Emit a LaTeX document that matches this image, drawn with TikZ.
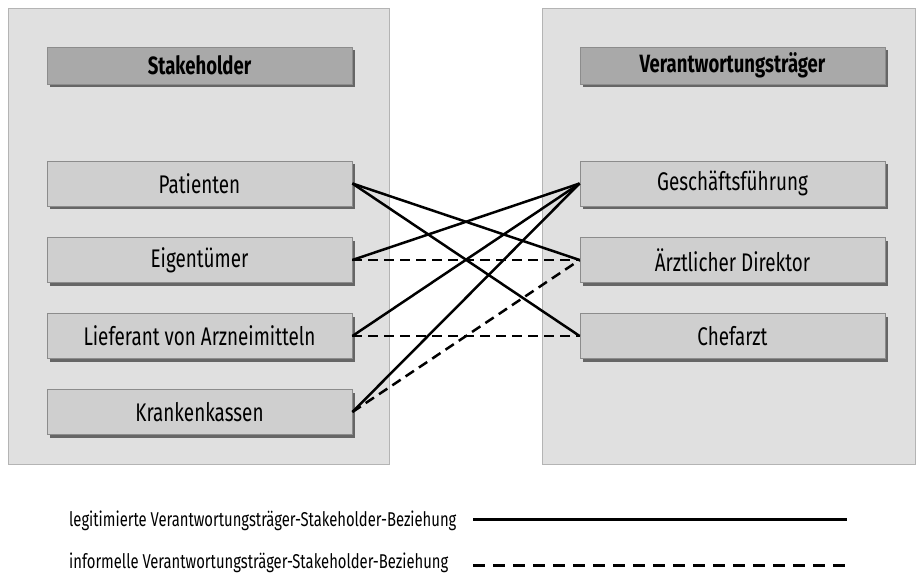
\documentclass[tikz,border=0pt]{standalone}
\usepackage{fontspec}
\setmainfont{Fira Sans}[FakeStretch=0.74]
\usetikzlibrary{shadows}
\definecolor{panelfill}{HTML}{E0E0E0}
\definecolor{panelline}{HTML}{B4B4B4}
\definecolor{headfill}{HTML}{A9A9A9}
\definecolor{itemfill}{HTML}{CFCFCF}
\definecolor{boxline}{HTML}{8C8C8C}
\definecolor{shadowgray}{HTML}{666666}
\tikzset{
  panel/.style={draw=panelline, fill=panelfill, line width=1pt},
  boxbase/.style={draw=boxline, line width=0.8pt, minimum width=305pt,
    minimum height=45pt, inner sep=0pt, font=\fontsize{25.5}{28}\selectfont,
    drop shadow={shadow xshift=3pt, shadow yshift=-3pt, fill=shadowgray, opacity=1}},
  headbox/.style={boxbase, fill=headfill, minimum height=37pt,
    font=\fontsize{25}{28}\selectfont\bfseries},
  itembox/.style={boxbase, fill=itemfill},
  formal/.style={line width=2.5pt},
  informal/.style={line width=2.5pt, dash pattern=on 10pt off 6pt},
  legendtext/.style={anchor=base west, inner sep=0pt, font=\fontsize{20}{23}\selectfont},
  legendline/.style={line width=3pt}
}
\begin{document}
\begin{tikzpicture}[x=1pt, y=-1pt]
  \useasboundingbox (0,0) rectangle (916,574);
  % two panels
  \draw[panel] (8,8) rectangle (389,464);
  \draw[panel] (542,8) rectangle (915,464);
  % headers
  \node[headbox] (sh) at (199.5,65.5) {Stakeholder};
  \node[headbox] (vt) at (732.5,65.5) {Verantwortungsträger};
  % stakeholders
  \node[itembox] (pat) at (199.5,183.5) {Patienten};
  \node[itembox] (eig) at (199.5,260) {Eigentümer};
  \node[itembox] (lie) at (199.5,336) {Lieferant von Arzneimitteln};
  \node[itembox] (kra) at (199.5,412) {Krankenkassen};
  % responsible parties
  \node[itembox] (gf) at (732.5,183.5) {Geschäftsführung};
  \node[itembox] (ad) at (732.5,260) {Ärztlicher Direktor};
  \node[itembox] (cf) at (732.5,336) {Chefarzt};
  % formal relations
  \draw[formal] (pat.east) -- (ad.west);
  \draw[formal] (pat.east) -- (cf.west);
  \draw[formal] (eig.east) -- (gf.west);
  \draw[formal] (lie.east) -- (gf.west);
  \draw[formal] (kra.east) -- (gf.west);
  % informal relations
  \draw[informal] (eig.east) -- (ad.west);
  \draw[informal] (lie.east) -- (cf.west);
  \draw[informal] (kra.east) -- (ad.west);
  % legend
  \node[legendtext] (l1) at (69,526) {legitimierte Verantwortungsträger-Stakeholder-Beziehung};
  \node[legendtext] (l2) at (69,568) {informelle Verantwortungsträger-Stakeholder-Beziehung};
  \coordinate (l1a) at (473,519);
  \coordinate (l1b) at (847,519);
  \coordinate (l2a) at (473,565);
  \coordinate (l2b) at (847,565);
  \draw[legendline] (l1a) -- (l1b);
  \draw[legendline, dash pattern=on 12pt off 8pt] (l2a) -- (l2b);
\end{tikzpicture}
\end{document}
